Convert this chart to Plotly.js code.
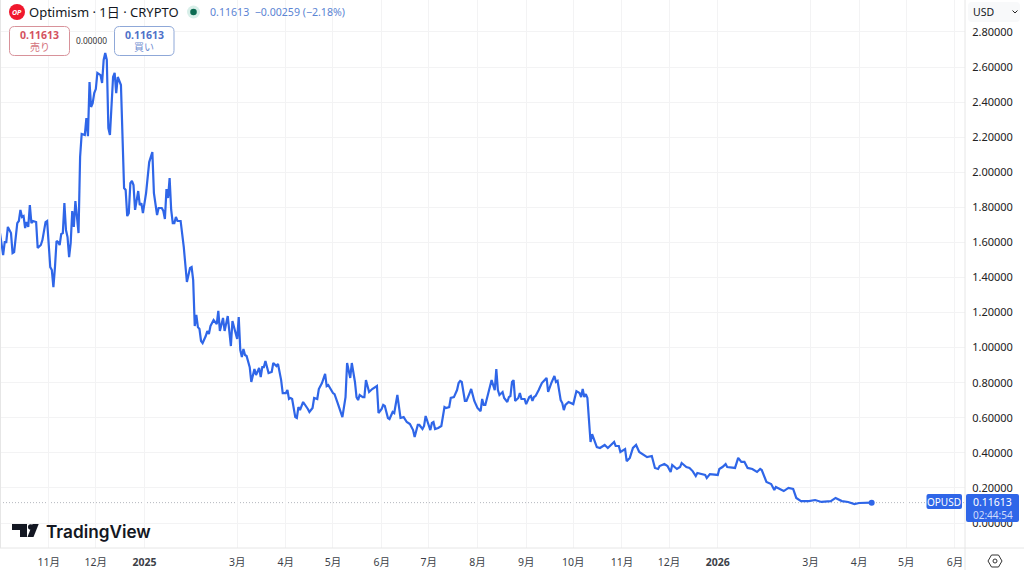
<!DOCTYPE html>
<html><head><meta charset="utf-8">
<script src="https://cdn.plot.ly/plotly-3.0.1.min.js"></script>
<style>html,body{margin:0;padding:0;background:#fff;overflow:hidden}</style>
</head><body><div id="chart" style="width:1024px;height:570px"></div>
<script>
// Days since the first visible date, and the OPUSD close
const firstDate = Date.UTC(2024, 9, 1);
const dayIndex = [
0,2,3,4,5,7,8,9,11,12,
13,14,15,16,17,18,19,20,21,23,
24,26,27,29,30,31,32,33,34,35,
36,37,38,39,40,41,42,43,44,45,
46,47,48,49,50,51,52,54,55,56,
57,58,59,60,61,62,64,65,66,67,
68,69,70,72,73,74,75,77,78,79,
80,81,82,83,84,85,86,88,89,90,
91,93,95,96,97,98,100,101,103,104,
105,106,107,108,109,110,111,112,113,115,
117,119,121,122,123,124,125,126,127,128,
129,131,132,133,134,136,138,139,140,142,
143,145,147,148,150,151,152,153,154,155,
156,157,159,160,162,163,165,166,167,168,
169,171,173,174,176,177,179,180,182,183,
184,185,186,188,189,190,191,193,196,197,
199,200,202,203,205,207,208,209,212,213,
215,216,218,220,221,223,224,226,227,228,
229,231,232,233,235,237,240,241,243,244,
245,247,248,250,251,253,254,255,257,259,
261,263,264,266,267,269,270,271,274,275,
276,277,279,281,283,284,286,287,289,291,
292,293,294,296,297,298,299,300,302,304,
306,307,308,309,311,313,315,316,317,318,
320,321,323,324,325,326,327,328,330,331,
332,334,335,337,338,339,340,341,343,345,
348,349,351,353,354,355,357,358,359,360,
362,365,367,369,370,371,372,373,374,375,
376,377,378,380,382,385,387,391,392,394,
395,398,399,401,403,405,407,410,412,415,
417,419,420,423,425,427,428,431,433,434,
437,439,441,443,444,449,450,452,457,458,
460,462,463,468,470,472,474,476,479,482,
484,485,488,491,493,494,499,502,505,507,
510,515,519,523,529,532,536,540,544,547,
551,555
];
const closePrice = [
1.653,1.528,1.602,1.602,1.688,1.653,1.539,1.545,1.710,1.722,
1.785,1.745,1.750,1.682,1.716,1.688,1.813,1.710,1.722,1.716,
1.568,1.585,1.613,1.716,1.722,1.568,1.459,1.442,1.345,1.459,
1.608,1.602,1.585,1.648,1.653,1.824,1.670,1.630,1.516,1.596,
1.779,1.688,1.836,1.745,1.653,2.087,2.218,2.212,2.309,2.206,
2.514,2.372,2.394,2.451,2.474,2.566,2.554,2.509,2.640,2.680,
2.640,2.252,2.212,2.543,2.566,2.451,2.543,2.497,2.201,1.910,
1.899,1.750,1.767,1.938,1.950,1.927,1.785,1.893,1.813,1.824,
1.767,1.881,2.058,2.092,2.115,1.881,1.756,1.796,1.796,1.779,
1.733,1.904,1.853,1.967,1.785,1.710,1.710,1.745,1.722,1.722,
1.574,1.374,1.454,1.459,1.385,1.123,1.186,1.117,1.106,1.038,
1.026,1.066,1.095,1.077,1.123,1.157,1.134,1.209,1.095,1.169,
1.095,1.180,1.009,1.152,1.089,1.049,1.174,0.986,0.946,0.992,
0.958,0.952,0.889,0.804,0.878,0.844,0.884,0.832,0.889,0.889,
0.924,0.855,0.861,0.912,0.895,0.907,0.815,0.741,0.741,0.758,
0.707,0.713,0.707,0.604,0.599,0.661,0.644,0.690,0.650,0.633,
0.656,0.713,0.707,0.764,0.798,0.850,0.781,0.787,0.741,0.735,
0.684,0.656,0.604,0.718,0.912,0.827,0.912,0.804,0.718,0.701,
0.730,0.718,0.718,0.815,0.747,0.764,0.781,0.627,0.650,0.673,
0.667,0.599,0.593,0.633,0.627,0.730,0.661,0.599,0.604,0.576,
0.564,0.530,0.490,0.559,0.559,0.536,0.553,0.610,0.530,0.570,
0.576,0.536,0.542,0.553,0.661,0.656,0.661,0.713,0.718,0.758,
0.798,0.810,0.804,0.696,0.696,0.724,0.741,0.764,0.696,0.656,
0.638,0.707,0.673,0.673,0.747,0.815,0.758,0.878,0.758,0.730,
0.747,0.713,0.690,0.718,0.724,0.804,0.815,0.696,0.713,0.741,
0.707,0.707,0.678,0.718,0.724,0.696,0.718,0.724,0.758,0.798,
0.827,0.747,0.798,0.838,0.804,0.810,0.701,0.684,0.644,0.673,
0.690,0.678,0.752,0.741,0.718,0.764,0.718,0.735,0.713,0.570,
0.462,0.507,0.485,0.433,0.428,0.445,0.428,0.462,0.439,0.439,
0.405,0.422,0.353,0.371,0.428,0.445,0.405,0.388,0.376,0.382,
0.314,0.308,0.325,0.336,0.325,0.291,0.331,0.308,0.319,0.342,
0.319,0.314,0.296,0.268,0.285,0.274,0.257,0.279,0.274,0.308,
0.319,0.336,0.319,0.314,0.371,0.348,0.348,0.314,0.308,0.291,
0.308,0.302,0.234,0.222,0.188,0.205,0.182,0.200,0.194,0.143,
0.125,0.125,0.131,0.120,0.125,0.143,0.125,0.120,0.108,0.114,
0.114,0.11613
];
const monthTickDates = ['2024-11-01','2024-12-01','2025-01-01','2025-03-01','2025-04-01','2025-05-01','2025-06-01','2025-07-01','2025-08-01','2025-09-01','2025-10-01','2025-11-01','2025-12-01','2026-01-01','2026-03-01','2026-04-01','2026-05-01','2026-06-01'];
const monthTickLabels = ['11月','12月','<b>2025</b>','3月','4月','5月','6月','7月','8月','9月','10月','11月','12月','<b>2026</b>','3月','4月','5月','6月'];
const lastPrice = 0.11613;
const viewRange = ['2024-10-01','2026-06-07 10:00'];
const priceRange = [-0.1425, 2.982];

const toDate = d => new Date(firstDate + d * 86400000).toISOString().slice(0, 10);
const dates = dayIndex.map(toDate);
const W = 965, H = 548;
const X = p => p / W, Y = p => 1 - p / H;
const FONT = '"Noto Sans","Noto Sans CJK JP",sans-serif';
const BLUE = '#2f66e8';

function rrect(x0, y0, x1, y1, r) {
  return 'M' + X(x0 + r) + ',' + Y(y0) + ' L' + X(x1 - r) + ',' + Y(y0) + ' Q' + X(x1) + ',' + Y(y0) + ' ' + X(x1) + ',' + Y(y0 + r) +
    ' L' + X(x1) + ',' + Y(y1 - r) + ' Q' + X(x1) + ',' + Y(y1) + ' ' + X(x1 - r) + ',' + Y(y1) +
    ' L' + X(x0 + r) + ',' + Y(y1) + ' Q' + X(x0) + ',' + Y(y1) + ' ' + X(x0) + ',' + Y(y1 - r) +
    ' L' + X(x0) + ',' + Y(y0 + r) + ' Q' + X(x0) + ',' + Y(y0) + ' ' + X(x0 + r) + ',' + Y(y0) + ' Z';
}
function poly(pts) {
  return 'M' + pts.map(p => X(p[0]) + ',' + Y(p[1])).join(' L') + ' Z';
}
const paper = o => Object.assign({xref: 'paper', yref: 'paper', layer: 'above'}, o);
const boxPath = (x0, y0, x1, y1, r, fill, stroke, w) => paper({type: 'path', path: rrect(x0, y0, x1, y1, r), fillcolor: fill, line: {color: stroke, width: w || 0}});
const circle = (cx, cy, r, fill) => paper({type: 'circle', x0: X(cx - r), x1: X(cx + r), y0: Y(cy + r), y1: Y(cy - r), fillcolor: fill, line: {width: 0}});

const shapes = [
  // price line
  {type: 'line', xref: 'paper', yref: 'y', x0: 0, x1: 1, y0: lastPrice, y1: lastPrice, layer: 'below', line: {color: '#b4b7be', width: 1, dash: '1px,2px'}},
  // borders
  paper({type: 'line', x0: X(0.5), x1: X(0.5), y0: 0, y1: 1, line: {color: '#e6e6e6', width: 1}}),
  paper({type: 'line', x0: X(965), x1: X(965), y0: Y(0), y1: Y(570), line: {color: '#e6e6e6', width: 1}}),
  paper({type: 'line', x0: 0, x1: X(1024), y0: Y(548), y1: Y(548), line: {color: '#e6e6e6', width: 1}}),
  // logo and status dot
  circle(17, 12, 8, '#f0182d'),
  circle(193.5, 12, 6.5, '#d8efe9'),
  circle(193.5, 12, 3.3, '#0b6b52'),
  // order boxes
  boxPath(9.5, 26.5, 69.5, 55.5, 5, '#ffffff', '#d8929a', 1),
  boxPath(114.5, 26.5, 174, 55.5, 5, '#ffffff', '#8fa8d8', 1),
  // currency selector
  boxPath(968, 2, 1020, 22, 4, '#f8f9fa', '#f8f9fa', 0),
  paper({type: 'path', path: 'M' + X(1012.5) + ',' + Y(10.5) + ' L' + X(1015) + ',' + Y(13) + ' L' + X(1017.5) + ',' + Y(10.5), line: {color: '#222', width: 1}}),
  // price badges
  boxPath(926.5, 494, 962, 509, 2, BLUE, BLUE, 0),
  boxPath(966, 494, 1019, 522, 2, BLUE, BLUE, 0),
  // watermark icon
  paper({type: 'path', path: poly([[12, 524], [27, 524], [27, 537], [20, 537], [20, 530], [12, 530]]), fillcolor: '#131722', line: {width: 0}}),
  circle(30.7, 527, 2.7, '#131722'),
  paper({type: 'path', path: poly([[32.5, 524], [38.7, 524], [33.5, 537], [27.5, 537]]), fillcolor: '#131722', line: {width: 0}}),
  // settings icon
  paper({type: 'path', path: poly([[988, 561], [991.5, 555], [998.5, 555], [1002, 561], [998.5, 567], [991.5, 567]]), line: {color: '#333', width: 1}}),
  paper({type: 'circle', x0: X(993), x1: X(997), y0: Y(563), y1: Y(559), line: {color: '#333', width: 1}})
];

const note = (text, x, y, size, color, anchor, extra) => Object.assign({
  text: text, xref: 'paper', yref: 'paper', x: X(x), y: Y(y), showarrow: false,
  xanchor: anchor || 'left', yanchor: 'middle', borderpad: 0,
  font: {family: FONT, size: size, color: color}
}, extra || {});

const annotations = [
  note('<b><i>OP</i></b>', 17, 12.5, 7, '#ffffff', 'center'),
  note('Optimism · 1日 · CRYPTO', 28, 12, 13, '#131722'),
  note('0.11613  −0.00259 (−2.18%)', 209, 12, 10.6, '#5b84d3'),
  note('<b>0.11613</b>', 39.5, 35, 10.5, '#d4525f', 'center'),
  note('売り', 39.5, 47, 10, '#d4727c', 'center'),
  note('0.00000', 91.5, 40.5, 8.4, '#333333', 'center'),
  note('<b>0.11613</b>', 144, 35, 10.5, '#4f72c9', 'center'),
  note('買い', 144, 47, 10, '#6f8dd0', 'center'),
  note('USD', 972, 12, 10.5, '#131722'),
  note('OPUSD', 944, 501.5, 10, '#ffffff', 'center'),
  note('0.11613', 992.5, 501.5, 10.5, '#ffffff', 'center'),
  note('02:44:54', 992.5, 515, 10, '#cfdcfb', 'center'),
  note('TradingView', 45, 531, 17.2, '#131722', 'left', {font: {family: 'Inter,' + FONT, size: 17.2, color: '#131722', weight: 600}})
];

const traces = [
  {type: 'scatter', mode: 'lines', x: dates, y: closePrice, line: {color: BLUE, width: 2.2, shape: 'linear'}, hoverinfo: 'skip'},
  {type: 'scatter', mode: 'markers', x: [dates[dates.length - 1]], y: [lastPrice], marker: {color: BLUE, size: 6}, hoverinfo: 'skip'}
];

const layout = {
  width: 1024, height: 570, autosize: false,
  margin: {l: 0, r: 59, t: 0, b: 22, pad: 0},
  paper_bgcolor: '#ffffff', plot_bgcolor: '#ffffff', showlegend: false,
  font: {family: FONT, color: '#333'},
  xaxis: {type: 'date', range: viewRange, tickmode: 'array', tickvals: monthTickDates, ticktext: monthTickLabels,
    showgrid: true, gridcolor: '#f3f3f4', gridwidth: 1, zeroline: false, showline: false,
    ticks: 'outside', ticklen: 4, tickcolor: 'rgba(0,0,0,0)', tickangle: 0, tickfont: {family: FONT, size: 10.5, color: '#3c3f48'}},
  yaxis: {side: 'right', range: priceRange, tick0: 0, dtick: 0.2, tickformat: '.5f',
    showgrid: true, gridcolor: '#f3f3f4', gridwidth: 1, zeroline: false, showline: false,
    ticks: 'outside', ticklen: 4, tickcolor: 'rgba(0,0,0,0)', tickfont: {family: FONT, size: 11, color: '#222'}},
  shapes: shapes, annotations: annotations
};
Plotly.newPlot('chart', traces, layout, {displayModeBar: false, staticPlot: true});
</script></body></html>
